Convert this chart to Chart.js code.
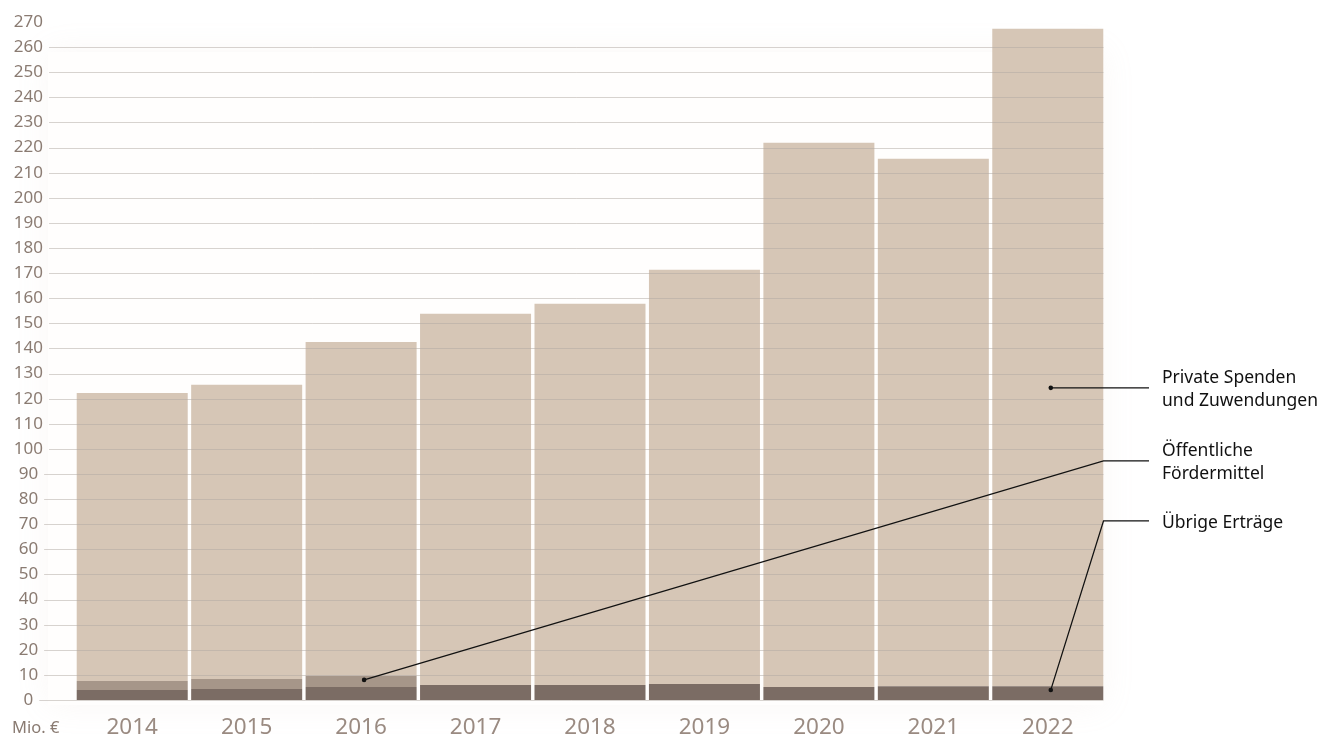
<!DOCTYPE html>
<html>
<head>
<meta charset="utf-8">
<script src="https://cdn.jsdelivr.net/npm/chart.js@4.4.1/dist/chart.umd.min.js"></script>
<style>
  html, body { margin: 0; padding: 0; background: #fff; }
  #wrap { width: 1322px; height: 735px; }
</style>
</head>
<body>
<div id="wrap"><canvas id="ertraege"></canvas></div>
<script>
// Erträge in Mio. €
var jahre = ['2014', '2015', '2016', '2017', '2018', '2019', '2020', '2021', '2022'];
var uebrige = [4.0, 4.4, 5.2, 6.0, 6.0, 6.4, 5.2, 5.5, 5.5];
var foerdermittel = [3.6, 4.0, 4.5, 0, 0, 0, 0, 0, 0];
var spenden = [114.7, 117.1, 132.9, 147.8, 151.8, 164.9, 216.7, 210.0, 261.8];
var yMax = 270;
var yStep = 10;

// Beschriftungen rechts: Jahr-Index, Wert des Punktes, Höhe des Knicks
var labelTexte = [['Private Spenden', 'und Zuwendungen'], ['Öffentliche', 'Fördermittel'], ['Übrige Erträge']];
var labelIndex = [8, 2, 8];
var labelWert = [124.3, 8, 4];
var labelKnick = [124.3, 95.2, 71.3];

var FONT = '"Noto Sans", "Open Sans", sans-serif';
var labelFarbe = '#8a7b72';

var glowPlugin = {
    id: 'glow',
    beforeDatasetsDraw: function(chart) {
        var ctx = chart.ctx, a = chart.chartArea;
        ctx.save();
        ctx.shadowColor = 'rgba(210, 190, 170, 0.12)';
        ctx.shadowBlur = 30;
        ctx.fillStyle = '#fffefd';
        ctx.fillRect(48, a.top + 30, a.right - 50, a.bottom - a.top - 25);
        ctx.restore();
    }
};

var gridPlugin = {
    id: 'gitter',
    afterDatasetsDraw: function(chart) {
        var ctx = chart.ctx, y = chart.scales.y, a = chart.chartArea;
        ctx.save();
        ctx.font = '17px ' + FONT;
        var widest = ctx.measureText(String(yMax)).width;
        var cx = y.right - y.options.ticks.padding - widest / 2;
        ctx.strokeStyle = 'rgba(175, 168, 162, 0.5)';
        ctx.lineWidth = 1;
        for (var v = 0; v < yMax; v += yStep) {
            var py = Math.round(y.getPixelForValue(v)) + 0.5;
            var w = ctx.measureText(String(v)).width;
            ctx.beginPath();
            ctx.moveTo(cx + w / 2 + 6, py);
            ctx.lineTo(a.right - 1.5, py);
            ctx.stroke();
        }
        ctx.restore();
    },
    afterDraw: function(chart) {
        var ctx = chart.ctx, a = chart.chartArea;
        var x = chart.scales.x, y = chart.scales.y;
        ctx.save();
        // Einheit
        ctx.font = '16.5px ' + FONT;
        ctx.fillStyle = labelFarbe;
        ctx.textBaseline = 'middle';
        ctx.textAlign = 'left';
        ctx.fillText('Mio. €', 12, 728);

        // Beschriftungen mit Linien
        var knieX = a.right - 1.5;
        var endX = a.right + 44;
        var textX = a.right + 57;
        ctx.strokeStyle = '#111';
        ctx.fillStyle = '#111';
        ctx.lineWidth = 1.2;
        ctx.font = '17.5px ' + FONT;
        for (var i = 0; i < labelTexte.length; i++) {
            var px = x.getPixelForValue(labelIndex[i]) + 3;
            var py = y.getPixelForValue(labelWert[i]);
            var ky = y.getPixelForValue(labelKnick[i]);
            ctx.beginPath();
            ctx.moveTo(px, py);
            ctx.lineTo(knieX, ky);
            ctx.lineTo(endX, ky);
            ctx.stroke();
            ctx.beginPath();
            ctx.arc(px, py, 2.3, 0, Math.PI * 2);
            ctx.fill();
            var zeilen = labelTexte[i];
            var start = ky + 2 - (zeilen.length - 1) * 11.5;
            for (var j = 0; j < zeilen.length; j++) {
                ctx.fillText(zeilen[j], textX, start + j * 23);
            }
        }
        ctx.restore();
    }
};

var ctx = document.getElementById('ertraege').getContext('2d');
var chart = new Chart(ctx, {
    type: 'bar',
    data: {
        labels: jahre,
        datasets: [{
            label: 'Übrige Erträge',
            data: uebrige,
            backgroundColor: '#7b6c64'
        }, {
            label: 'Öffentliche Fördermittel',
            data: foerdermittel,
            backgroundColor: '#a69689'
        }, {
            label: 'Private Spenden und Zuwendungen',
            data: spenden,
            backgroundColor: '#d6c6b6'
        }]
    },
    options: {
        responsive: true,
        maintainAspectRatio: false,
        animation: false,
        layout: {
            padding: { top: 22, right: 217, bottom: 0, left: 0 }
        },
        datasets: {
            bar: { barPercentage: 0.97, categoryPercentage: 1.0 }
        },
        scales: {
            x: {
                stacked: true,
                grid: { display: false, drawTicks: false },
                border: { display: false },
                ticks: {
                    color: '#9a8b82',
                    font: { family: FONT, size: 22.5 },
                    padding: 14
                },
                afterFit: function(s) { s.height = 35; }
            },
            y: {
                stacked: true,
                min: 0,
                max: yMax,
                grid: { display: false, drawTicks: false },
                border: { display: false },
                ticks: {
                    stepSize: yStep,
                    crossAlign: 'center',
                    padding: 32,
                    color: labelFarbe,
                    font: { family: FONT, size: 17 }
                },
                afterFit: function(s) {
                    s.width = 75;
                    // Abstand der Beschriftung nicht als Rand oben/unten zählen
                    s.paddingTop = 0;
                    s.paddingBottom = 0;
                }
            }
        },
        plugins: {
            legend: { display: false },
            tooltip: { enabled: false }
        }
    },
    plugins: [glowPlugin, gridPlugin]
});
</script>
</body>
</html>
